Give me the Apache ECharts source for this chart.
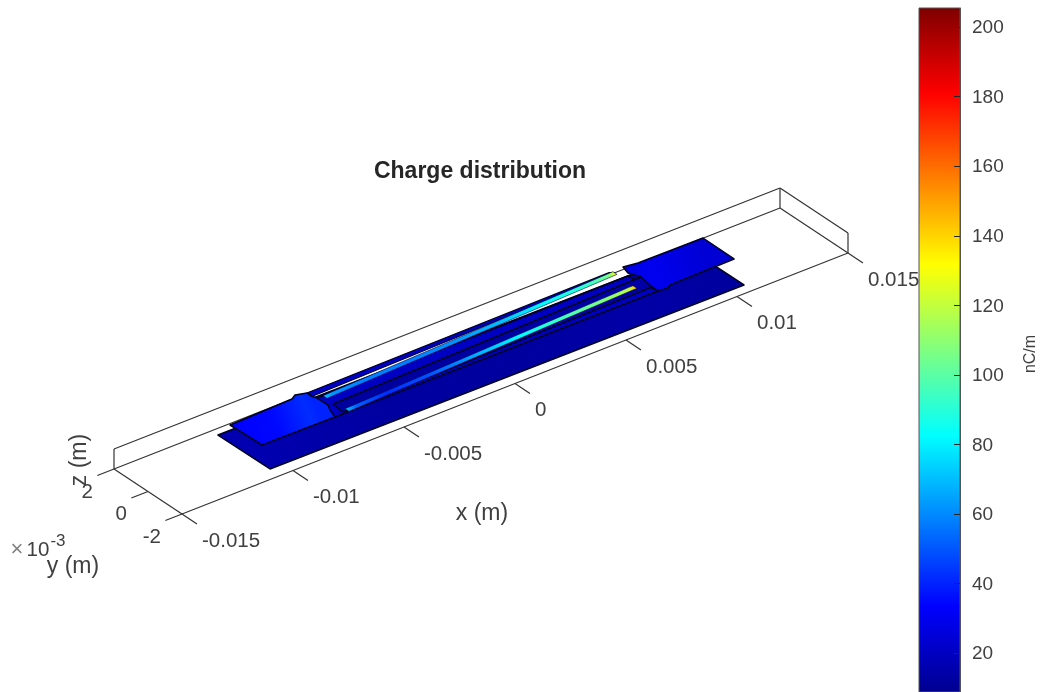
<!DOCTYPE html>
<html><head><meta charset="utf-8">
<style>html,body{margin:0;padding:0;background:#fff}#c{width:1040px;height:692px}</style>
<script src="https://cdn.jsdelivr.net/npm/echarts@6/dist/echarts.min.js"></script>
</head><body><div id="c"></div>
<script>
// ---- data (lengths in mm, charge in nC/m) ----
const titleText = 'Charge distribution';
const xLim = [-15, 15], yLim = [-2, 2], zLim = [0, 1];
const xTicks = [-15, -10, -5, 0, 5, 10, 15];
const xTickLabels = ['-0.015', '-0.01', '-0.005', '0', '0.005', '0.01', '0.015'];
const yTicks = [2, 0, -2];
const yTickLabels = ['2', '0', '-2'];
const cbTicks = [20, 40, 60, 80, 100, 120, 140, 160, 180, 200];
const cbMin = 8.8, cbMax = 205.5;
const lowerPlate = [[-10.586,-1.413],[10.69,-1.511],[10.672,1.525],[-10.605,1.623]];
const lowerPlateCharge = [[-10.6,16],[-6,13],[0,12],[6,14],[10.7,12]];
const midBand = [[-6.222,1.522],[7.793,1.529],[8.001,0.036],[-6.525,0.068]];
const midBandCharge = [[-6.5,20],[8,20]];
const slot = [[-6.025,0.837],[8.118,1.19],[8.002,0.39],[-6.084,0.172]];
const slotCharge = [[-6,12],[8,14]];
const topBand = [[-6.291,2.021],[7.4,2.13],[7.55,2.0],[-6.249,1.722]];
const topBandCharge = [[-6.3,22],[7.8,18]];
const leftBlock = [[-9.837,1.918],[-9.787,0.101],[-6.525,0.068],[-6.367,0.568],[-6.21,0.891],[-6.222,1.522],[-6.305,1.765],[-6.291,2.021],[-6.716,2.171],[-6.972,2.014]];
const leftBlockCharge = [[-9.8,33],[-8,35],[-6.6,42],[-6.2,40]];
const rightBlock = [[11.539,2.01],[11.519,0.159],[8.596,0.108],[8.411,-0.016],[8.001,0.036],[8.002,0.39],[8.118,1.19],[7.921,1.697],[8.036,2.141],[8.632,2.036]];
const rightBlockCharge = [[7.9,27],[9,30],[11.5,24]];
const upperStripX = [-5.952,-5.5,-4,-2,0,2,4,6,7,7.3,7.553];
const upperStripY = [1.403,1.422,1.487,1.572,1.658,1.743,1.829,1.915,1.958,1.97,1.981];
const upperStripCharge = [72,62,58,58,62,70,82,92,105,125,160];
const lowerStripX = [-5.886,-5.4,-4,-2,0,2,4,6,7,7.3,7.521];
const lowerStripY = [0.196,0.217,0.276,0.361,0.446,0.531,0.616,0.701,0.744,0.757,0.762];
const lowerStripCharge = [72,52,42,50,66,82,95,108,118,140,170];
const stripHalfWidth = 0.12;

// ---- jet colour scale ----
const jetFractions = [0, 0.125, 0.375, 0.625, 0.875, 1];
const jetColors = [[0,0,143],[0,0,255],[0,255,255],[255,255,0],[255,0,0],[128,0,0]];
function jet(v){
  const t = Math.max(0, Math.min(1, (v - cbMin) / (cbMax - cbMin)));
  for (let i = 1; i < jetFractions.length; i++) {
    if (t <= jetFractions[i]) {
      const f = (t - jetFractions[i-1]) / (jetFractions[i] - jetFractions[i-1]);
      const a = jetColors[i-1], b = jetColors[i];
      return 'rgb(' + a.map((c,k)=>Math.round(c + (b[k]-c)*f)).join(',') + ')';
    }
  }
  return 'rgb(128,0,0)';
}

// ---- 3-D view: mm -> plane of the hidden cartesian axes ----
function project(x, y, z){
  return [481 + 22.2*x - 17*y, 361 - 8.7*x - 11.25*y - 20*(z||0)];
}

const EDGE = '#333', TXT = '#404040', FONT = '"Liberation Sans",Arial,sans-serif';
const TICK_FS = 20.5, CB_FS = 19, LABEL_FS = 23, TITLE_FS = 23;
const marks = [];
function seg(a, b, w, c){ marks.push({k:'line', a, b, w: w||1.2, c: c||EDGE}); }
function text(p, s, fs, o){ marks.push(Object.assign({k:'text', p, s, fs}, o||{})); }
function poly(pts, stops, stroke, lw){ marks.push({k:'poly', pts, stops, stroke, lw}); }

const [x0,x1] = xLim, [y0,y1] = yLim, [z0,z1] = zLim;
// box edges
seg([x0,y1,z0],[x1,y1,z0]);
seg([x0,y1,z1],[x1,y1,z1]);
seg([x1,y1,z1],[x1,y0,z1]);
seg([x1,y1,z0],[x1,y0,z0]);
seg([x0,y0,z0],[x1,y0,z0]);
seg([x0,y0,z0],[x0,y1,z0]);
seg([x0,y1,z0],[x0,y1,z1]);
seg([x1,y1,z0],[x1,y1,z1]);
seg([x1,y0,z0],[x1,y0,z1]);
// ticks
xTicks.forEach(t => seg([t,y0,z0],[t,y0-0.88,z0]));
yTicks.forEach(t => seg([x0,t,z0],[x0-0.75,t,z0]));
// conductors
poly(lowerPlate, lowerPlateCharge, '#000020', 1.5);
poly(midBand, midBandCharge, '#000020', 1.5);
poly(slot, slotCharge, '#000020', 1.5);
poly(topBand, topBandCharge, '#000020', 1.2);
function strip(xs, ys, cs){
  const up = xs.map((x,i)=>[x, ys[i]+stripHalfWidth]);
  const dn = xs.map((x,i)=>[x, ys[i]-stripHalfWidth]).reverse();
  poly(up.concat(dn), xs.map((x,i)=>[x, cs[i]]), '#000050', 0.6);
}
strip(upperStripX, upperStripY, upperStripCharge);
strip(lowerStripX, lowerStripY, lowerStripCharge);
poly(leftBlock, leftBlockCharge, '#000020', 1.5);
poly(rightBlock, rightBlockCharge, '#000020', 1.5);
// tick labels
xTicks.forEach((t,i)=> text({from:[t,y0,z0], dx:20, dy:27}, xTickLabels[i], TICK_FS, {align:'left'}));
yTicks.forEach((t,i)=> text({from:[x0,t,z0], dx:-21, dy:23}, yTickLabels[i], TICK_FS, {align:'right'}));

const screen = [
  {s:titleText, x:480, y:171.5, fs:TITLE_FS, weight:'bold', color:'#262626'},
  {s:'x (m)', x:482, y:514, fs:LABEL_FS},
  {s:'y (m)', x:73, y:567, fs:LABEL_FS},
  {s:'z (m)', x:80, y:460, fs:LABEL_FS, rot:Math.PI/2},
  {s:'\u00d7', x:17, y:550, fs:22, color:'#808080'},
  {s:'10', x:38, y:550, fs:TICK_FS},
  {s:'-3', x:58, y:541, fs:17},
  {s:'nC/m', x:1031, y:354, fs:16, rot:Math.PI/2}
];

const option = {
  animation:false,
  backgroundColor:'#fff',
  grid:[
    {left:0, top:0, width:1040, height:692, show:false},
    {left:919, top:8, width:41, height:684, show:false}
  ],
  xAxis:[
    {type:'value', gridIndex:0, min:0, max:1040, show:false},
    {type:'value', gridIndex:1, min:0, max:1, show:false}
  ],
  yAxis:[
    {type:'value', gridIndex:0, min:0, max:692, inverse:true, show:false},
    {type:'value', gridIndex:1, min:cbMin, max:cbMax, position:'right', z:6,
     axisLine:{show:true, onZero:false, lineStyle:{color:'#555', width:1}},
     axisTick:{show:true, inside:true, length:6, lineStyle:{color:'#262626'}, customValues:cbTicks},
     axisLabel:{show:false},
     splitLine:{show:false}}
  ],
  series:[
    {type:'custom', xAxisIndex:0, yAxisIndex:0, silent:true, clip:false, z:2,
     data:marks.map((m,i)=>[i]),
     renderItem(params, api){
       const m = marks[api.value(0)];
       if (m.k === 'line') {
         const a = api.coord(project(...m.a)), b = api.coord(project(...m.b));
         return {type:'line', shape:{x1:a[0],y1:a[1],x2:b[0],y2:b[1]}, style:{stroke:m.c, lineWidth:m.w}};
       }
       if (m.k === 'poly') {
         const pts = m.pts.map(p=>api.coord(project(p[0],p[1],0)));
         const st = m.stops, xa = st[0][0], xb = st[st.length-1][0];
         const ya = m.pts[0][1];
         const pa = api.coord(project(xa,ya,0)), pb = api.coord(project(xb,ya,0));
         const fill = new echarts.graphic.LinearGradient(pa[0],pa[1],pb[0],pb[1],
           st.map(s=>({offset:(s[0]-xa)/(xb-xa), color:jet(s[1])})), true);
         return {type:'polygon', shape:{points:pts}, style:{fill, stroke:m.stroke, lineWidth:m.lw, lineJoin:'round'}};
       }
       const b = api.coord(project(...m.p.from));
       return {type:'text', x:b[0]+m.p.dx, y:b[1]+m.p.dy,
         style:{text:m.s, fill:TXT, font:m.fs+'px '+FONT, textAlign:m.align, textVerticalAlign:'middle'}};
     }},
    {type:'custom', xAxisIndex:0, yAxisIndex:0, silent:true, clip:false, z:3,
     data:screen.map((m,i)=>[i]),
     renderItem(params, api){
       const m = screen[api.value(0)];
       const p = api.coord([m.x, m.y]);
       return {type:'text', x:p[0], y:p[1], rotation:m.rot||0,
         style:{text:m.s, fill:m.color||TXT, font:(m.weight?m.weight+' ':'')+m.fs+'px '+FONT, textAlign:'center', textVerticalAlign:'middle'}};
     }},
    {type:'custom', xAxisIndex:1, yAxisIndex:1, silent:true, clip:false, z:1,
     data:[[0,cbMin,1,cbMax]],
     renderItem(params, api){
       const a = api.coord([api.value(0), api.value(3)]), b = api.coord([api.value(2), api.value(1)]);
       const fill = new echarts.graphic.LinearGradient(0,b[1],0,a[1],
         jetFractions.map((f,i)=>({offset:f, color:'rgb('+jetColors[i].join(',')+')'})), true);
       return {type:'rect', shape:{x:a[0],y:a[1],width:b[0]-a[0],height:b[1]-a[1]},
         style:{fill, stroke:'#555', lineWidth:1}};
     }},
    {type:'custom', xAxisIndex:1, yAxisIndex:1, silent:true, clip:false, z:3,
     data:cbTicks.map(v=>[1,v]),
     renderItem(params, api){
       const p = api.coord([api.value(0), api.value(1)]);
       return {type:'text', x:p[0]+12, y:p[1]+1,
         style:{text:String(api.value(1)), fill:TXT, font:CB_FS+'px '+FONT, textAlign:'left', textVerticalAlign:'middle'}};
     }}
  ]
};
const chart = echarts.init(document.getElementById('c'), null, {renderer:'canvas'});
chart.setOption(option);
</script></body></html>
